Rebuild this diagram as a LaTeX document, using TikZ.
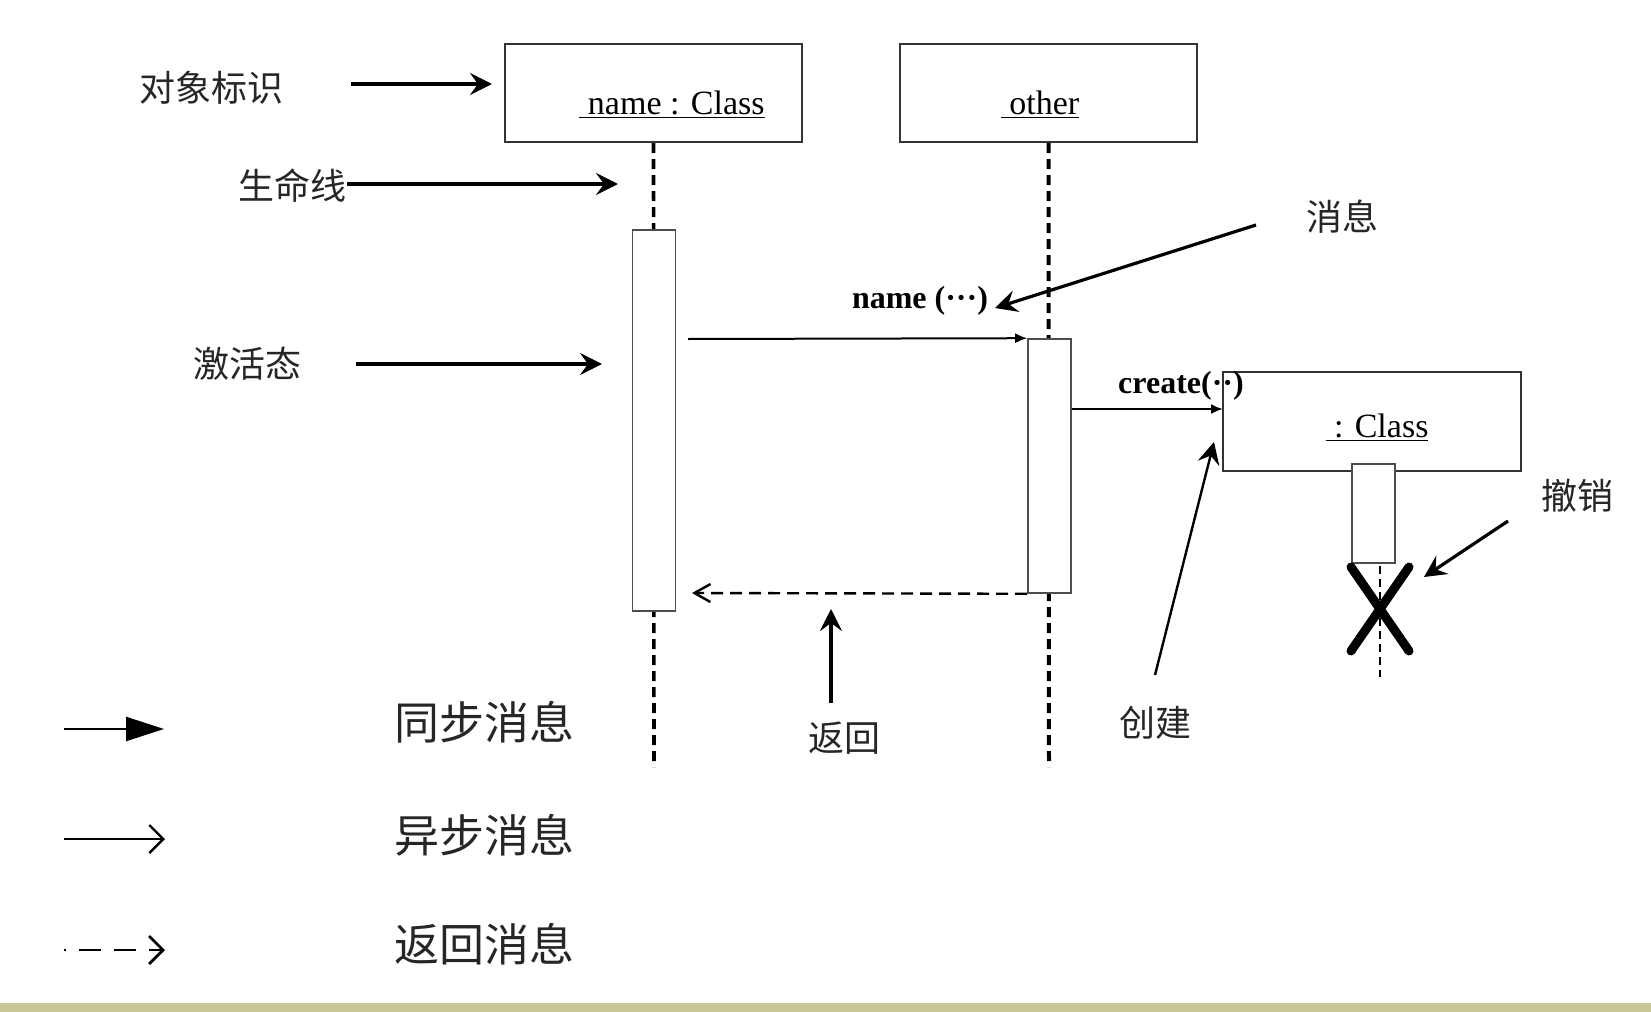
\documentclass[tikz,border=0pt]{standalone}
\usepackage{fontspec}
\setmainfont{Liberation Serif}
\newfontfamily\cjk{Noto Sans CJK SC}
\usetikzlibrary{arrows.meta}
\definecolor{bandolive}{HTML}{C8C597}

\begin{document}
\begin{tikzpicture}[x=0.5pt,y=-0.5pt,
  objbox/.style={draw=black!80, line width=1pt, fill=white, minimum width=148.5pt, minimum height=49pt, inner sep=0pt},
  actbar/.style={draw=black!70, line width=0.8pt, fill=white, minimum width=21.5pt, inner sep=0pt},
  lifeline/.style={line width=1.8pt, dash pattern=on 5pt off 3pt},
  msg/.style={line width=1pt, -{Latex[length=6pt,width=5pt]}},
  ret/.style={line width=1.2pt, dash pattern=on 6pt off 3.5pt, -{Straight Barb[length=8pt,width=9pt]}},
  pointer/.style={line width=1.6pt, -{Stealth[length=11pt,width=11pt,inset=4pt]}},
  note/.style={font=\cjk\fontsize{18pt}{20pt}\selectfont, text=black!85, inner sep=0pt},
  legendtext/.style={font=\cjk\fontsize{22.5pt}{24pt}\selectfont, text=black!85, inner sep=0pt},
  objtext/.style={font=\fontsize{17pt}{19pt}\selectfont, inner sep=0pt},
  msgtext/.style={font=\bfseries\fontsize{16pt}{18pt}\selectfont, inner sep=0pt},
  kill/.style={line width=4.5pt, line cap=round}]
\useasboundingbox (0,0) rectangle (1651,1012);
\fill[white] (0,0) rectangle (1651,1012);
\fill[bandolive] (0,1003) rectangle (1651,1012);
\node[objbox] (obj1) at (653.5,93) {};
\node[objbox] (obj2) at (1048.5,93) {};
\node[objtext] (obj1txt) at (672,105) {\underline{\ name : Class}};
\node[objtext] (obj2txt) at (1040,105) {\underline{\ other}};
\coordinate (ll1end) at (654,767);
\coordinate (ll2end) at (1049,767);
\draw[lifeline] (obj1.south) -- (ll1end);
\draw[lifeline, line width=2pt] (obj2.south) -- (ll2end);
\node[actbar, minimum height=190.5pt] (bar1) at (654,420.5) {};
\node[actbar, minimum height=127pt] (bar2) at (1049.5,466) {};
\node[objbox, minimum width=149pt, minimum height=49.5pt] (obj3) at (1372,421.5) {};
\node[objtext] (obj3txt) at (1377,428) {\underline{\ : Class}};
\node[actbar, minimum height=49.5pt] (bar3) at (1373.5,513.5) {};
\coordinate (ll3start) at (1380,566);
\coordinate (ll3end) at (1380,677);
\draw[kill] (1351,567) -- (1409,651);
\draw[kill] (1409,567) -- (1351,651);
\draw[line width=1.4pt, dash pattern=on 4pt off 2.5pt] (ll3start) -- (ll3end);
\coordinate (msgstart) at (688,339);
\draw[msg] (msgstart) -- (bar2.north west);
\node[msgtext] (msglbl) at (920,301) {name (···)};
\coordinate (crtip) at (1223,409);
\draw[msg] (bar2.east |- crtip) -- (crtip);
\node[msgtext] (crlbl) at (1181,386) {create(··)};
\coordinate (retend) at (692,593);
\draw[ret] (bar2.south west) -- (retend);
\node[note] (lblid) at (211,88) {对象标识};
\node[note] (lbllife) at (292,186) {生命线};
\node[note] (lblact) at (247,364) {激活态};
\node[note] (lblmsg) at (1342,217) {消息};
\node[note] (lblkill) at (1577,496) {撤销};
\node[note] (lblcreate) at (1155,723) {创建};
\node[note] (lblret) at (844,738) {返回};
\coordinate (p1s) at (351,84);
\coordinate (p1e) at (492,84);
\draw[pointer] (p1s) -- (p1e);
\coordinate (p2s) at (347,184);
\coordinate (p2e) at (618,184);
\draw[pointer] (p2s) -- (p2e);
\coordinate (p3s) at (356,364);
\coordinate (p3e) at (602,364);
\draw[pointer] (p3s) -- (p3e);
\coordinate (p4s) at (1256,225);
\coordinate (p4e) at (995,308);
\draw[pointer] (p4s) -- (p4e);
\coordinate (p5s) at (1508,521);
\coordinate (p5e) at (1424,577);
\draw[pointer] (p5s) -- (p5e);
\coordinate (p6s) at (1155,675);
\coordinate (p6e) at (1214,442);
\draw[pointer, line width=1.2pt] (p6s) -- (p6e);
\coordinate (p7s) at (831,703);
\coordinate (p7e) at (831,609);
\draw[pointer] (p7s) -- (p7e);
\coordinate (lg1s) at (64,729);
\coordinate (lg1e) at (164,729);
\draw[line width=1.2pt, -{Triangle[length=19pt,width=12pt]}] (lg1s) -- (lg1e);
\coordinate (lg2s) at (64,839);
\coordinate (lg2e) at (165,839);
\draw[line width=1.2pt, -{Straight Barb[length=7pt,width=14pt]}] (lg2s) -- (lg2e);
\coordinate (lg3s) at (64,950);
\coordinate (lg3e) at (165,950);
\draw[line width=1.4pt, dash pattern=on 11pt off 6.5pt, dash phase=10pt, -{Straight Barb[length=7pt,width=14pt]}] (lg3s) -- (lg3e);
\node[legendtext] (lgsync) at (484,722) {同步消息};
\node[legendtext] (lgasync) at (484,835) {异步消息};
\node[legendtext] (lgret) at (484,944) {返回消息};
\end{tikzpicture}
\end{document}
